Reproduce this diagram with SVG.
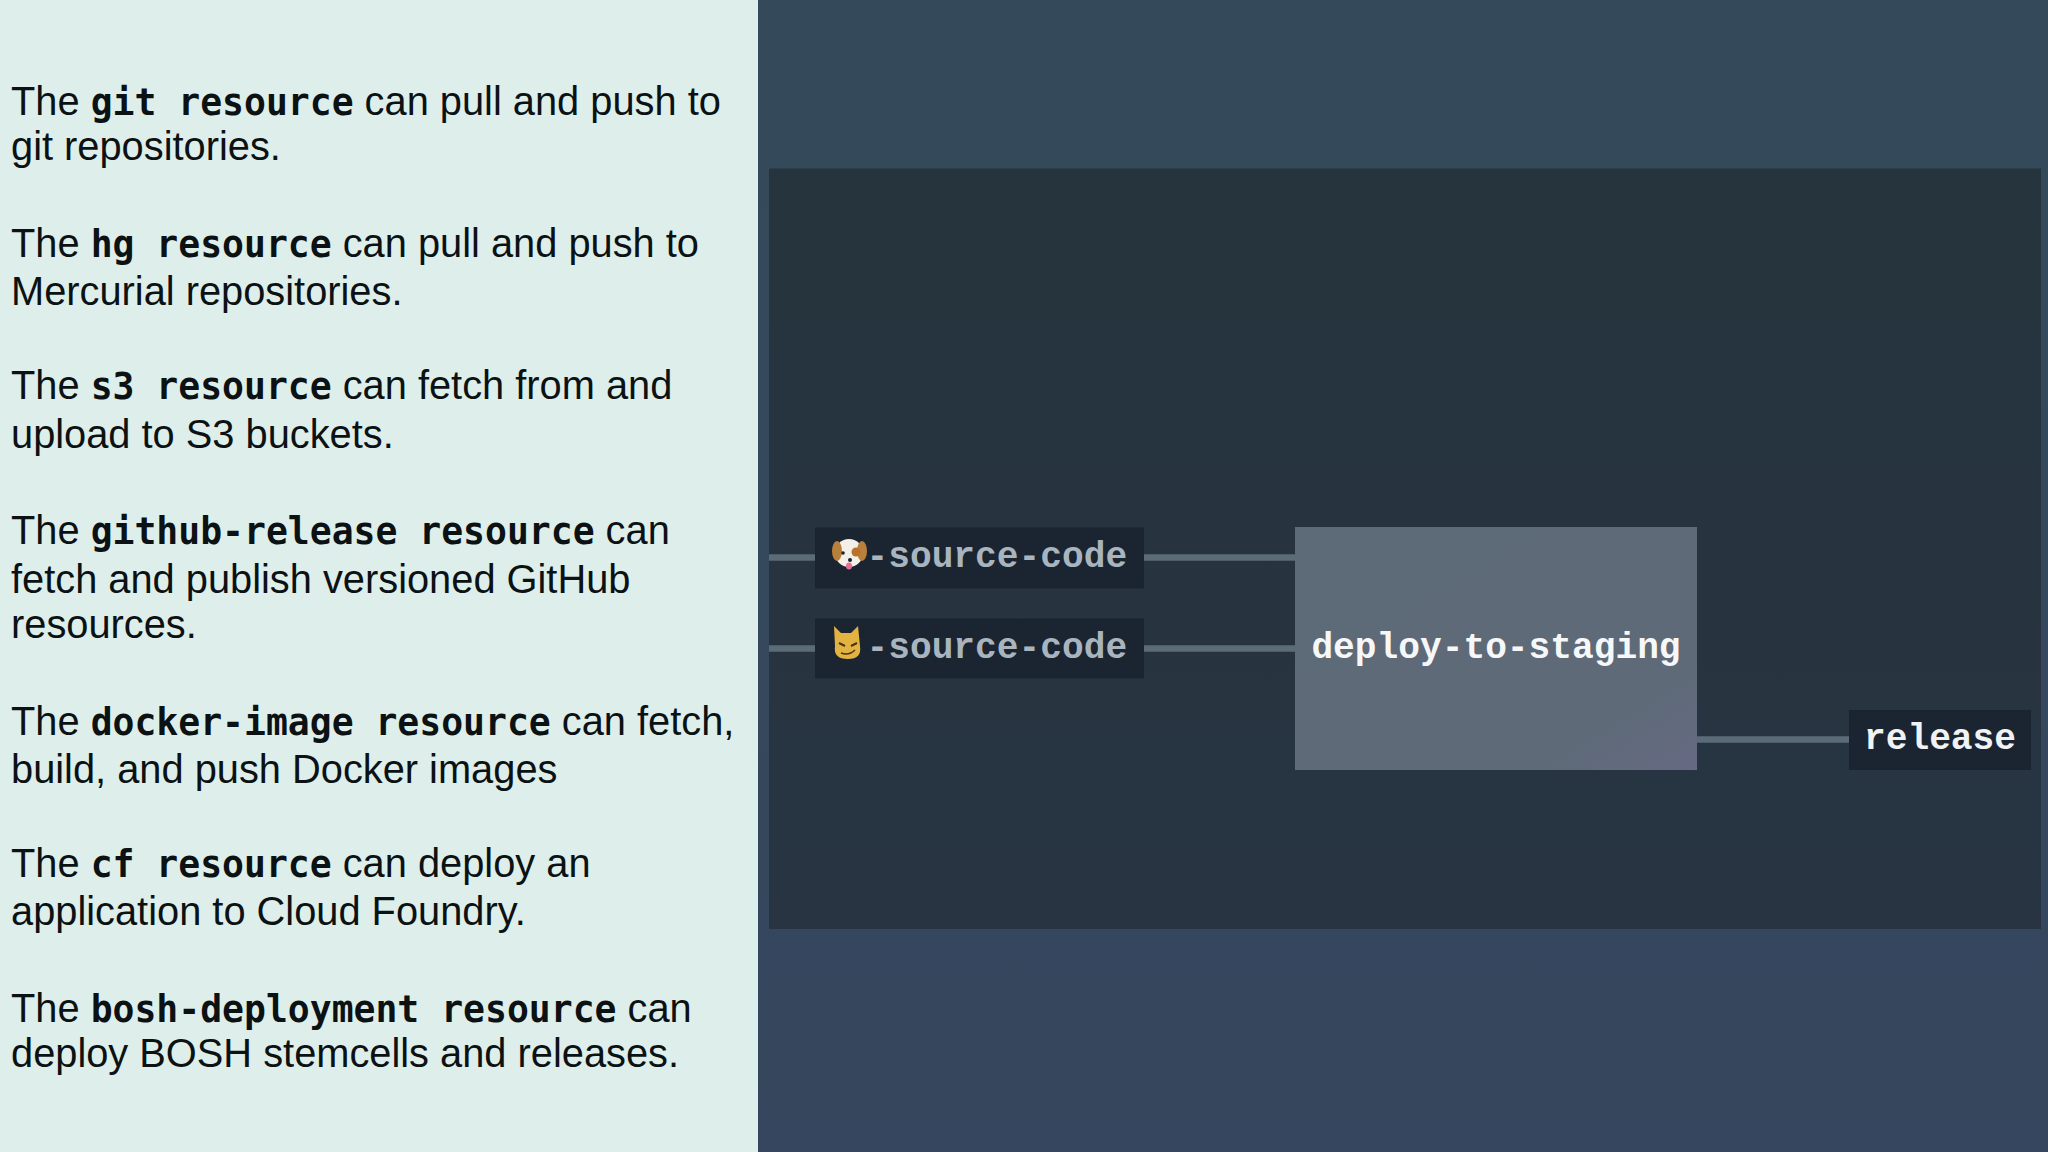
<svg xmlns="http://www.w3.org/2000/svg" width="2048" height="1152" viewBox="0 0 2048 1152">
<style>
.b{font-family:"Liberation Sans",Arial,sans-serif;font-size:39.8px;fill:#0c1214}
.m{font-family:"DejaVu Sans Mono","Liberation Mono",monospace;font-size:36.4px;font-weight:700;fill:#0c1214}
.t{font-family:"Liberation Mono","Courier New",monospace;font-size:36.2px;font-weight:700}
.c{stroke:#5b6b78;stroke-width:6.5;fill:none}
.l{fill:#1b2431}
</style>
<defs>
<linearGradient id="bg" x1="0" y1="0" x2="0" y2="1"><stop offset="0" stop-color="#344a5a"/><stop offset="1" stop-color="#35465e"/></linearGradient>
<linearGradient id="panel" x1="0" y1="0" x2="0" y2="1"><stop offset="0" stop-color="#26343e"/><stop offset="1" stop-color="#283442"/></linearGradient>
<linearGradient id="job" x1="0" y1="0" x2="1" y2="1"><stop offset="0" stop-color="#5d6a77"/><stop offset="0.8" stop-color="#5f6a79"/><stop offset="1" stop-color="#666a83"/></linearGradient>
</defs>
<rect width="2048" height="1152" fill="url(#bg)"/>
<rect width="758" height="1152" fill="#deefeb"/>
<rect x="769" y="168.500" width="1272" height="760.500" fill="url(#panel)"/>
<g id="sidebar-text">
<text class="b" x="11" y="114.500">The <tspan class="m">git resource</tspan> can pull and push to</text>
<text class="b" x="11" y="160">git repositories.</text>
<text class="b" x="11" y="257">The <tspan class="m">hg resource</tspan> can pull and push to</text>
<text class="b" x="11" y="305">Mercurial repositories.</text>
<text class="b" x="11" y="399">The <tspan class="m">s3 resource</tspan> can fetch from and</text>
<text class="b" x="11" y="447.500">upload to S3 buckets.</text>
<text class="b" x="11" y="544">The <tspan class="m">github-release resource</tspan> can</text>
<text class="b" x="11" y="592.500">fetch and publish versioned GitHub</text>
<text class="b" x="11" y="638">resources.</text>
<text class="b" x="11" y="734.500">The <tspan class="m">docker-image resource</tspan> can fetch,</text>
<text class="b" x="11" y="783">build, and push Docker images</text>
<text class="b" x="11" y="876.500">The <tspan class="m">cf resource</tspan> can deploy an</text>
<text class="b" x="11" y="924.500">application to Cloud Foundry.</text>
<text class="b" x="11" y="1021.500">The <tspan class="m">bosh-deployment resource</tspan> can</text>
<text class="b" x="11" y="1067">deploy BOSH stemcells and releases.</text>
</g>
<g id="connectors">
<path class="c" d="M769 557.500H815M1143 557.500H1295"/>
<path class="c" d="M769 648.500H815M1143 648.500H1295"/>
<path class="c" d="M1697 739.500H1849"/>
</g>
<g id="node-dog-source-code">
<rect class="l" x="815" y="527.500" width="329" height="61"/>
<ellipse cx="849" cy="553" rx="14" ry="14" fill="#f3efe9"/>
<ellipse cx="837" cy="551" rx="5" ry="10" fill="#b9803c"/>
<ellipse cx="862" cy="551" rx="5" ry="10" fill="#b9803c"/>
<circle cx="856" cy="552" r="4.500" fill="#b9722c"/>
<circle cx="843" cy="553" r="1.800" fill="#222"/>
<circle cx="850" cy="560" r="2" fill="#222"/>
<ellipse cx="849" cy="566" rx="3" ry="3.500" fill="#e86f9a"/>
<text class="t" x="866.500" y="567" fill="#a9b5be">-source-code</text>
</g>
<g id="node-cat-source-code">
<rect class="l" x="815" y="618.500" width="329" height="60"/>
<path d="M834 626L841 633H851L858 626L860 646Q862 659 848 659Q833 659 835 646Z" fill="#e3b342"/>
<path d="M839 643L845 646M857 643L851 646" stroke="#4a3410" stroke-width="2"/>
<path d="M841 653Q849 656 855 650" stroke="#4a3410" stroke-width="1.500" fill="none"/>
<text class="t" x="866.500" y="658" fill="#a9b5be">-source-code</text>
</g>
<g id="node-deploy-to-staging">
<rect x="1295" y="527" width="402" height="243" fill="url(#job)"/>
<text class="t" x="1496" y="658" text-anchor="middle" fill="#f6f7f8">deploy-to-staging</text>
</g>
<g id="node-release">
<rect class="l" x="1849" y="710" width="182" height="60"/>
<text class="t" x="1940" y="749" text-anchor="middle" fill="#f0f2f3">release</text>
</g>
</svg>
